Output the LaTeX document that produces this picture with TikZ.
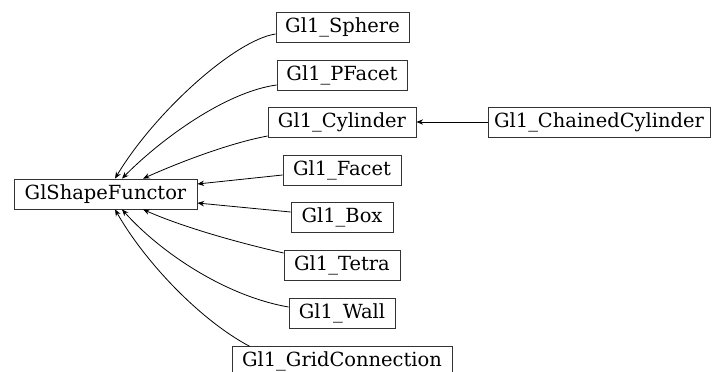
\documentclass[tikz,border=0pt]{standalone}
\usepackage{fontspec}
\setmainfont{DejaVu Serif}
\usetikzlibrary{calc,arrows.meta}
\begin{document}
\begin{tikzpicture}[x=0.75pt,y=-0.75pt,
  cls/.style={draw=black!80,line width=0.6pt,inner xsep=2pt,inner ysep=0pt,minimum height=22.5pt,
    font=\fontsize{14.6}{17}\selectfont,text=black,fill=white},
  w/.style={minimum width=#1*0.75pt},
  inh/.style={draw=black,line width=0.6pt,-{Stealth[length=5pt,width=4pt]}}]
\useasboundingbox (0,0) rectangle (712,371);
\node[cls,w=183] (gsf) at (105.5,194) {GlShapeFunctor};
\node[cls,w=133] (sphere) at (342.5,27) {Gl1\_Sphere};
\node[cls,w=130] (pfacet) at (342,75) {Gl1\_PFacet};
\node[cls,w=148] (cyl) at (342,122) {Gl1\_Cylinder};
\node[cls,w=222] (chain) at (599,122) {Gl1\_ChainedCylinder};
\node[cls,w=118] (facet) at (342,170) {Gl1\_Facet};
\node[cls,w=102] (box) at (342,217) {Gl1\_Box};
\node[cls,w=116] (tetra) at (342,265) {Gl1\_Tetra};
\node[cls,w=106] (wall) at (342,313) {Gl1\_Wall};
\node[cls,w=220] (grid) at (342,361.7) {Gl1\_GridConnection};

\draw[inh] ($(sphere.west)+(0,7)$) .. controls (235,40) and (155,112) .. ($(gsf.north)+(9.5,0)$);
\draw[inh] ($(pfacet.west)+(0,10)$) .. controls (225,92) and (160,140) .. ($(gsf.north)+(16.5,0)$);
\draw[inh] ($(cyl.west)+(0,14)$) .. controls (230,143) and (180,162) .. ($(gsf.north)+(37.5,0)$);
\draw[inh] ($(facet.west)+(0,5)$) -- ($(gsf.east)+(0,-10)$);
\draw[inh] ($(box.west)+(0,-5)$) -- ($(gsf.east)+(0,9)$);
\draw[inh] ($(tetra.west)+(0,-12)$) .. controls (235,242) and (180,226) .. ($(gsf.south)+(37.5,0)$);
\draw[inh] ($(wall.west)+(0,-6)$) .. controls (225,296) and (160,252) .. ($(gsf.south)+(16.5,0)$);
\draw[inh] ($(grid.north west)+(18,0)$) .. controls (200,320) and (145,262) .. ($(gsf.south)+(9.5,0)$);
\draw[inh] (chain.west) -- (cyl.east);
\end{tikzpicture}
\end{document}
